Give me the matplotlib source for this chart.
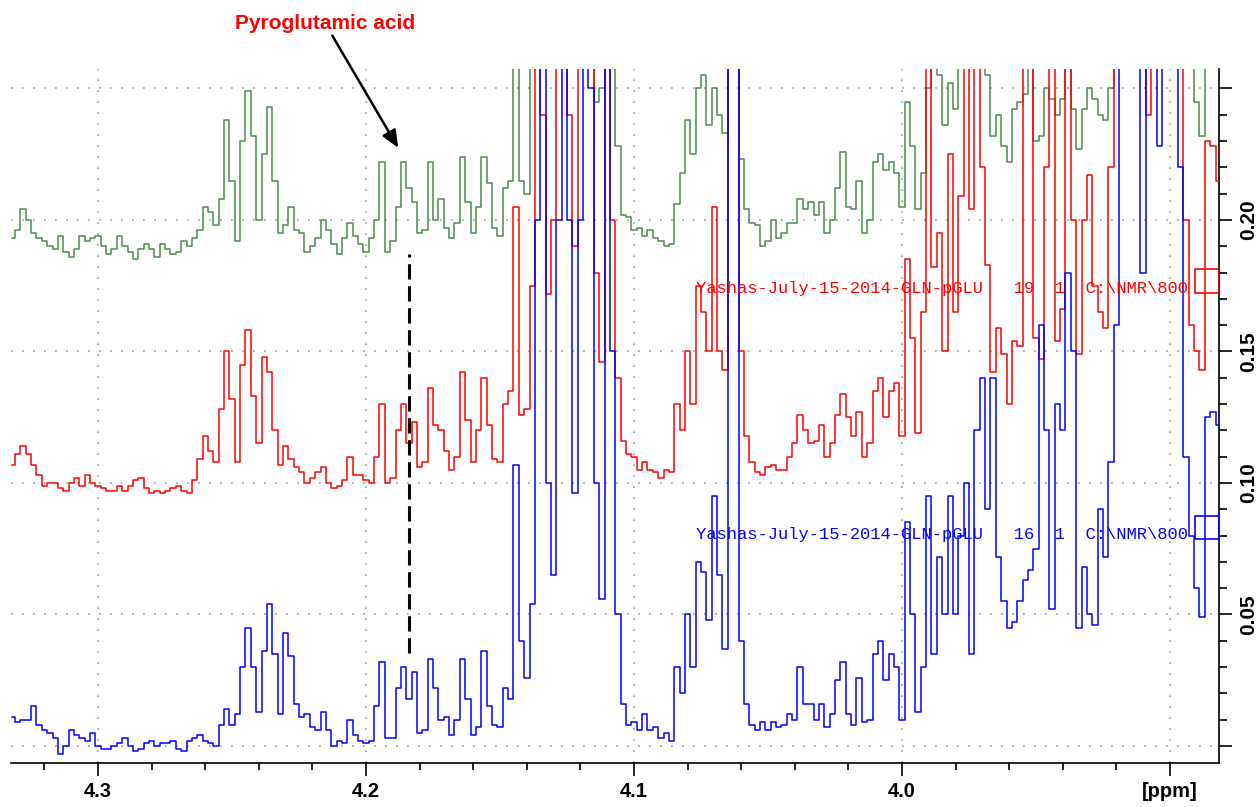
import numpy as np
import matplotlib
matplotlib.use("Agg")
import matplotlib.pyplot as plt
from matplotlib.patches import Rectangle
from matplotlib.ticker import MultipleLocator, FixedLocator

# ---------------- data ----------------
ppm_start = 4.332
ppm_step = 0.002

green_vals = [
    0.193,0.196,0.204,0.200,0.195,0.193,0.192,0.190,0.189,0.194,
    0.188,0.186,0.189,0.194,0.192,0.193,0.194,0.190,0.187,0.189,
    0.194,0.190,0.188,0.185,0.189,0.191,0.189,0.186,0.191,0.189,
    0.187,0.188,0.192,0.190,0.193,0.196,0.205,0.203,0.198,0.208,
    0.238,0.215,0.192,0.230,0.249,0.232,0.200,0.225,0.243,0.215,
    0.195,0.198,0.205,0.196,0.195,0.188,0.190,0.193,
    0.200,0.196,0.191,0.187,0.193,0.199,0.194,0.191,0.188,0.193,
    0.200,0.222,0.188,0.192,0.205,0.222,0.212,0.207,0.195,0.196,
    0.222,0.200,0.208,0.197,0.193,0.199,0.224,0.207,0.195,0.205,
    0.224,0.214,0.197,0.194,0.212,0.215,0.260,0.215,0.210,0.260,
    0.300,0.300,0.300,0.300,0.300,0.300,0.300,0.300,0.300,0.300,
    0.280,0.245,0.250,0.300,0.260,0.228,
    0.202,0.201,0.196,0.197,0.194,0.196,0.193,0.192,0.190,0.191,
    0.206,0.218,0.238,0.225,0.250,0.255,0.236,0.250,0.240,0.233,
    0.300,0.300,0.223,0.204,0.199,0.198,0.190,0.192,0.200,0.193,
    0.195,0.199,0.199,0.208,0.204,0.207,0.202,0.207,0.195,0.200,
    0.212,0.226,0.205,0.204,0.215,0.195,0.200,0.222,0.225,0.219,
    0.222,0.218,0.205,0.245,0.228,0.204,
    0.218,0.250,0.260,0.255,0.236,0.252,0.242,0.260,0.300,0.300,
    0.300,0.260,0.255,0.232,0.240,0.228,0.222,0.242,0.245,0.248,
    0.260,0.230,0.232,0.250,0.246,0.240,0.246,0.260,0.242,0.227,
    0.242,0.250,0.246,0.240,0.238,0.250,0.260,0.300,0.300,0.300,
    0.300,0.300,0.300,0.300,0.300,0.300,0.300,0.300,0.300,0.300,
    0.300,0.245,0.232,0.300,0.300,0.300,
]

red_vals = [
    0.107,0.111,0.114,0.111,0.107,0.103,0.099,0.100,0.100,0.098,
    0.097,0.100,0.102,0.099,0.103,0.100,0.099,0.098,0.097,0.097,
    0.099,0.097,0.099,0.101,0.102,0.098,0.096,0.097,0.096,0.097,
    0.098,0.099,0.097,0.096,0.101,0.109,0.118,0.112,0.108,0.128,
    0.150,0.132,0.108,0.145,0.158,0.133,0.115,0.148,0.142,0.120,
    0.107,0.114,0.109,0.106,0.104,0.100,0.102,0.104,
    0.106,0.100,0.098,0.099,0.101,0.110,0.103,0.103,0.101,0.100,
    0.110,0.130,0.100,0.102,0.120,0.130,0.115,0.123,0.106,0.108,
    0.136,0.122,0.120,0.112,0.105,0.110,0.142,0.124,0.108,0.120,
    0.140,0.122,0.109,0.108,0.130,0.135,0.205,0.126,0.128,0.175,
    0.300,0.240,0.172,0.200,0.300,0.300,0.240,0.190,0.260,0.300,
    0.300,0.180,0.146,0.300,0.200,0.140,
    0.116,0.111,0.110,0.105,0.108,0.105,0.104,0.102,0.105,0.104,
    0.130,0.120,0.150,0.130,0.175,0.165,0.150,0.205,0.150,0.143,
    0.300,0.300,0.150,0.118,0.108,0.104,0.103,0.106,0.107,0.105,
    0.105,0.110,0.115,0.126,0.120,0.115,0.116,0.122,0.110,0.115,
    0.126,0.134,0.125,0.118,0.127,0.110,0.115,0.135,0.140,0.125,
    0.135,0.138,0.118,0.185,0.155,0.119,
    0.165,0.260,0.182,0.195,0.150,0.225,0.165,0.209,0.260,0.204,
    0.260,0.220,0.183,0.142,0.159,0.149,0.130,0.154,0.152,0.260,
    0.260,0.155,0.147,0.220,0.260,0.154,0.166,0.260,0.200,0.149,
    0.200,0.217,0.175,0.165,0.159,0.220,0.300,0.300,0.300,0.300,
    0.300,0.260,0.240,0.300,0.300,0.300,0.300,0.300,0.300,0.200,
    0.160,0.150,0.143,0.230,0.228,0.215,
]

blue_vals = [
    0.011,0.009,0.010,0.010,0.015,0.008,0.006,0.005,0.003,-0.003,
    0.000,0.006,0.004,0.003,0.002,0.005,0.000,-0.001,-0.001,0.000,
    0.001,0.003,0.000,-0.002,-0.001,0.001,0.002,0.000,0.001,0.001,
    0.002,-0.001,-0.002,0.002,0.003,0.004,0.002,0.001,0.000,0.008,
    0.014,0.008,0.012,0.030,0.045,0.030,0.013,0.036,0.054,0.035,
    0.012,0.043,0.034,0.016,0.011,0.012,0.007,0.006,
    0.013,0.006,0.000,0.002,0.001,0.010,0.004,0.002,0.001,0.002,
    0.015,0.032,0.003,0.003,0.022,0.030,0.018,0.028,0.005,0.006,
    0.033,0.022,0.010,0.011,0.004,0.010,0.033,0.018,0.004,0.007,
    0.036,0.015,0.008,0.007,0.022,0.018,0.107,0.040,0.026,0.054,
    0.200,0.300,0.100,0.065,0.200,0.300,0.200,0.096,0.200,0.300,
    0.250,0.100,0.056,0.300,0.150,0.050,
    0.016,0.008,0.009,0.006,0.012,0.006,0.007,0.003,0.005,0.002,
    0.030,0.020,0.050,0.030,0.070,0.066,0.048,0.095,0.065,0.037,
    0.300,0.300,0.040,0.016,0.008,0.006,0.009,0.006,0.009,0.007,
    0.008,0.012,0.010,0.030,0.016,0.016,0.010,0.016,0.007,0.012,
    0.025,0.032,0.012,0.008,0.026,0.009,0.010,0.035,0.040,0.025,
    0.035,0.030,0.010,0.085,0.050,0.013,
    0.030,0.095,0.035,0.072,0.050,0.095,0.050,0.080,0.100,0.035,
    0.120,0.140,0.090,0.140,0.072,0.055,0.045,0.047,0.055,0.063,
    0.067,0.075,0.160,0.120,0.052,0.130,0.120,0.180,0.150,0.045,
    0.068,0.050,0.046,0.090,0.072,0.108,0.160,0.260,0.300,0.300,
    0.260,0.180,0.260,0.260,0.228,0.300,0.300,0.300,0.220,0.110,
    0.080,0.060,0.049,0.125,0.127,0.122,
]

x_ticks = [4.3, 4.2, 4.1, 4.0, 3.9]
x_tick_labels = ["4.3", "4.2", "4.1", "4.0", "[ppm]"]
y_ticks = [0.00, 0.05, 0.10, 0.15, 0.20, 0.25]
y_tick_labels = ["", "0.05", "0.10", "0.15", "0.20", ""]

label_red = "Yashas-July-15-2014-GLN-pGLU   19  1  C:\\NMR\\800"
label_blue = "Yashas-July-15-2014-GLN-pGLU   16  1  C:\\NMR\\800"
annotation_text = "Pyroglutamic acid"

ppm = ppm_start - ppm_step * np.arange(len(green_vals))

# ---------------- figure ----------------
fig = plt.figure(figsize=(12.58, 8.07), dpi=100)
ax = fig.add_axes([11/1258, 44/807, 1208/1258, 694/807])

xmin, xmax = 4.3325, 3.8817
ymin, ymax = -0.0065, 0.2574
ax.set_xlim(xmin, xmax)
ax.set_ylim(ymin, ymax)

# grid
grid_kw = dict(color="#9a9a9a", lw=1.1, ls=(0, (1.2, 6)), zorder=0)
for xv in x_ticks:
    ax.axvline(xv, **grid_kw)
for yv in y_ticks:
    ax.axhline(yv, **grid_kw)

lw = 1.1
ax.plot(ppm, green_vals, color="#4a8a4a", lw=lw, drawstyle="steps-mid", zorder=2)
ax.plot(ppm, red_vals, color="#ff0000", lw=lw, drawstyle="steps-mid", zorder=3)
ax.plot(ppm, blue_vals, color="#0000ff", lw=lw, drawstyle="steps-mid", zorder=4)

# spines
for s in ["left", "top"]:
    ax.spines[s].set_visible(False)
for s in ["right", "bottom"]:
    ax.spines[s].set_linewidth(1.2)

ax.yaxis.tick_right()
ax.xaxis.set_major_locator(FixedLocator(x_ticks))
ax.set_xticklabels(x_tick_labels)
ax.xaxis.set_minor_locator(MultipleLocator(0.02))
ax.yaxis.set_major_locator(FixedLocator(y_ticks))
ax.set_yticklabels(y_tick_labels)
ax.yaxis.set_minor_locator(MultipleLocator(0.01))

ax.tick_params(axis="x", which="major", direction="out", length=9.5, width=1.2,
               pad=4, labelsize=14.5)
ax.tick_params(axis="x", which="minor", direction="out", length=5, width=1.2)
ax.tick_params(axis="y", which="major", direction="out", length=9.5, width=1.2,
               pad=5, labelsize=15, right=True, left=False)
ax.tick_params(axis="y", which="minor", direction="out", length=5.5, width=1.2,
               right=True, left=False)
for lab in ax.get_xticklabels():
    lab.set_fontfamily("Liberation Sans")
    lab.set_fontweight("bold")
for lab in ax.get_yticklabels():
    lab.set_fontfamily("Liberation Sans")
    lab.set_fontweight("bold")
    lab.set_rotation(90)
    lab.set_va("center")

# spectrum title labels (TopSpin style)
ax.text(4.0769, 0.1738, label_red, color="#ff0000", fontsize=12.3,
        family="Liberation Mono", va="center", ha="left", zorder=6)
ax.text(4.0769, 0.0802, label_blue, color="#0000ff", fontsize=12.3,
        family="Liberation Mono", va="center", ha="left", zorder=6)
ax.add_patch(Rectangle((3.8907, 0.1722), 3.8817 - 3.8907, 0.1814 - 0.1722,
                       fill=False, edgecolor="#ff0000", lw=1.2, zorder=6))
ax.add_patch(Rectangle((3.8907, 0.0787), 3.8817 - 3.8907, 0.0875 - 0.0787,
                       fill=False, edgecolor="#0000ff", lw=1.2, zorder=6))

# dashed marker line
ax.plot([4.184, 4.184], [0.0354, 0.1869], color="black", lw=2.2,
        ls=(0, (5, 2.2)), zorder=7)

# annotation
ax.annotate(annotation_text, xy=(4.188, 0.2274), xytext=(4.2153, 0.2748),
            textcoords="data", color="#ff0000", fontsize=15, fontweight="bold",
            family="Liberation Sans", ha="center", va="center",
            annotation_clip=False, zorder=8,
            arrowprops=dict(arrowstyle="-|>,head_length=0.7,head_width=0.3",
                            color="black", lw=1.8, shrinkA=0, shrinkB=0))

fig.savefig("out.png", dpi=100)
